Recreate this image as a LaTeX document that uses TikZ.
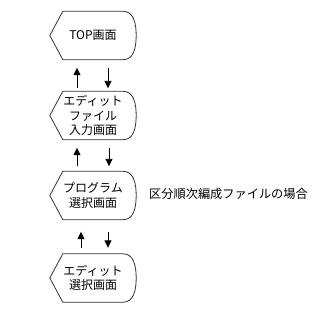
\documentclass[tikz,border=0pt]{standalone}
\usepackage{fontspec}
\newfontfamily\jp{Noto Sans CJK JP}
\usetikzlibrary{arrows.meta}
\tikzset{
  dispbox/.style={minimum width=86pt, minimum height=48pt, inner sep=0pt, align=center, font=\jp\fontsize{12}{14.5}\selectfont},
  outl/.style={draw=black!80, line width=0.8pt},
  arr/.style={draw=black, line width=0.9pt, -{Triangle[width=7pt,length=7.5pt]}},
  lbl/.style={inner sep=0pt, anchor=west, font=\jp\fontsize{12.2}{14}\selectfont}
}
\newcommand\dispoutline[1]{%
  \draw[outl] (#1.west) -- ([xshift=13pt]#1.north west) -- ([xshift=-13pt]#1.north east)
    .. controls ([xshift=-3pt]#1.north east) and ([yshift=13pt]#1.east) .. (#1.east)
    .. controls ([yshift=-13pt]#1.east) and ([xshift=-3pt]#1.south east) .. ([xshift=-13pt]#1.south east)
    -- ([xshift=13pt]#1.south west) -- cycle;}
\begin{document}
\begin{tikzpicture}[x=1pt,y=-1pt]
\useasboundingbox[fill=white] (0,0) rectangle (316,316);
\node[dispbox] (n1) at (93,35.5) {TOP画面};
\node[dispbox] (n2) at (93,115.5) {エディット\\ファイル\\入力画面};
\node[dispbox] (n3) at (93,195.5) {プログラム\\選択画面};
\node[dispbox] (n4) at (93,278) {エディット\\選択画面};
\dispoutline{n1}
\dispoutline{n2}
\dispoutline{n3}
\dispoutline{n4}
\node[lbl] (lab) at (149,194) {区分順次編成ファイルの場合};
% arrows n1 <-> n2
\draw[arr] ([xshift=-16pt,yshift=3pt]n2.north) -- ([xshift=-16pt,yshift=-8pt]n1.south);
\draw[arr] ([xshift=15pt,yshift=-8pt]n1.south) -- ([xshift=15pt,yshift=3pt]n2.north);
% arrows n2 <-> n3
\draw[arr] ([xshift=-16pt,yshift=5pt]n3.north) -- ([xshift=-16pt,yshift=-8pt]n2.south);
\draw[arr] ([xshift=16pt,yshift=-8pt]n2.south) -- ([xshift=16pt,yshift=5pt]n3.north);
% arrows n3 <-> n4
\draw[arr] ([xshift=-12pt,yshift=6pt]n4.north) -- ([xshift=-12pt,yshift=-12pt]n3.south);
\draw[arr] ([xshift=15pt,yshift=-12pt]n3.south) -- ([xshift=15pt,yshift=6pt]n4.north);
\end{tikzpicture}
\end{document}
